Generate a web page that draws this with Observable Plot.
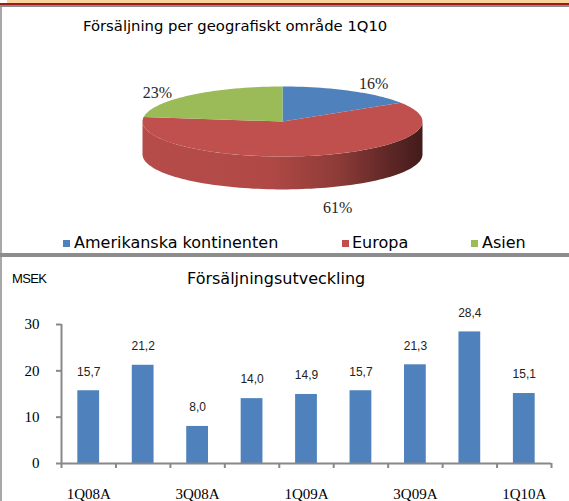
<!DOCTYPE html>
<html><head><meta charset="utf-8">
<script src="https://cdn.jsdelivr.net/npm/d3@7"></script>
<script src="https://cdn.jsdelivr.net/npm/@observablehq/plot@0.6"></script>
<style>
html,body{margin:0;padding:0;background:#fff;overflow:hidden;}
#wrap{position:relative;width:569px;height:501px;overflow:hidden;background:#fff;font-family:"DejaVu Sans",sans-serif;color:#000;}
.abs{position:absolute;white-space:nowrap;}
.sw{position:absolute;width:7px;height:7px;}
</style></head><body>
<svg id="defs" width="0" height="0" style="position:absolute"><defs></defs></svg>
<div id="wrap">
  <div class="abs" style="left:7px;top:0;width:562px;height:3px;background:#fcd29c"></div>
  <div class="abs" style="left:0;top:3px;width:569px;height:2px;background:#9e1b1b"></div>
  <div class="abs" style="left:0;top:5px;width:569px;height:2px;background:#8c8c8c"></div>
  <div class="abs" style="left:0;top:7px;width:1.5px;height:494px;background:#a8a8a8"></div>
  <div class="abs" style="left:0;top:253px;width:569px;height:4px;background:#8c8c8c"></div>
  <div id="t1" class="abs" style="left:83px;top:18px;font-size:14.8px;line-height:15px;">Försäljning per geografiskt område 1Q10</div>
  <div id="legend"></div>
  <div class="abs" style="left:12px;top:272px;font-family:'Liberation Sans';font-size:13px;line-height:13px;letter-spacing:-0.6px;">MSEK</div>
  <div class="abs" style="left:187px;top:271px;font-size:16px;line-height:16px;">Försäljningsutveckling</div>
</div>
<script>
// ---- data ----
const regions = ["Amerikanska kontinenten", "Europa", "Asien"];
const shares = [16, 61, 23];
const regionColors = ["#4f81bd", "#c0504d", "#9bbb59"];

const quarters = ["1Q08A","2Q08A","3Q08A","4Q08A","1Q09A","2Q09A","3Q09A","4Q09A","1Q10A"];
const sales = [15.7, 21.2, 8.0, 14.0, 14.9, 15.7, 21.3, 28.4, 15.1];
const yTicks = [0, 10, 20, 30];
const xLabelTicks = ["1Q08A","3Q08A","1Q09A","3Q09A","1Q10A"];

const wrap = document.getElementById("wrap");

// ---- side gradients ----
const defs = document.querySelector("#defs defs");
regionColors.forEach((c, i) => {
  const stops = [[0, 0.15], [0.45, 0.25], [0.7, 0.87], [0.88, 2.0], [1, 2.95]];
  const g = document.createElementNS("http://www.w3.org/2000/svg", "linearGradient");
  g.setAttribute("id", "side" + i);
  g.setAttribute("x1", "0"); g.setAttribute("x2", "1"); g.setAttribute("y1", "0"); g.setAttribute("y2", "0");
  stops.forEach(([o, k]) => {
    const s = document.createElementNS("http://www.w3.org/2000/svg", "stop");
    s.setAttribute("offset", o);
    s.setAttribute("stop-color", d3.color(c).darker(k).formatHex());
    g.appendChild(s);
  });
  defs.appendChild(g);
});

// ---- pie geometry ----
const arcs = d3.pie().sort(null).value(d => d)(shares);
const DEPTH = 0.94;
function arcPts(a0, a1, dy) {
  const n = Math.max(2, Math.ceil((a1 - a0) / (2 * Math.PI) * 180));
  return d3.range(n + 1).map(k => {
    const a = a0 + (a1 - a0) * k / n;
    return {x: Math.sin(a), y: Math.cos(a) + dy};
  });
}
const pieMarks = [];
arcs.forEach((p, i) => {
  const a0 = Math.max(p.startAngle, Math.PI / 2), a1 = Math.min(p.endAngle, 3 * Math.PI / 2);
  if (a1 > a0) {
    const pts = [...arcPts(a0, a1, 0), ...arcPts(a0, a1, -DEPTH).reverse()];
    pieMarks.push(Plot.line(pts, {x: "x", y: "y", fill: `url(#side${i})`, stroke: "none", curve: "linear"}));
  }
});
arcs.forEach((p, i) => {
  const pts = [{x: 0, y: 0}, ...arcPts(p.startAngle, p.endAngle, 0), {x: 0, y: 0}];
  pieMarks.push(Plot.line(pts, {x: "x", y: "y", fill: regionColors[i], stroke: "none", curve: "linear"}));
});
const pieLabels = arcs.map((p, i) => {
  const m = (p.startAngle + p.endAngle) / 2, s = Math.sin(m), c = Math.cos(m);
  const front = c < 0;
  return {x: s * 1.35 + (front ? 0.1 : 0), y: front ? c * 1.1 - DEPTH - 0.45 : c * 2.04 - 0.70, t: shares[i] + "%"};
});
pieMarks.push(Plot.text(pieLabels, {x: "x", y: "y", text: "t", fontFamily: "Liberation Serif", fontSize: 16, fill: "#262626"}));

const pie = Plot.plot({
  width: 569, height: 253, margin: 0,
  x: {domain: [-1, 1], range: [142, 422], axis: null},
  y: {domain: [-1, 1], range: [156, 86], axis: null},
  style: {background: "transparent", overflow: "visible"},
  marks: pieMarks
});
pie.style.position = "absolute"; pie.style.left = "0px"; pie.style.top = "0px";
wrap.insertBefore(pie, wrap.firstChild);

// ---- legend ----
const legendPos = [{sq: 63, tx: 74}, {sq: 342, tx: 352}, {sq: 471, tx: 482}];
const legend = document.getElementById("legend");
regions.forEach((r, i) => {
  const sq = document.createElement("div");
  sq.className = "sw";
  sq.style.left = legendPos[i].sq + "px"; sq.style.top = "240px"; sq.style.background = regionColors[i];
  legend.appendChild(sq);
  const t = document.createElement("div");
  t.className = "abs";
  t.style.left = legendPos[i].tx + "px"; t.style.top = "235px"; t.style.fontSize = "16px"; t.style.lineHeight = "16px";
  t.textContent = r;
  legend.appendChild(t);
});

// ---- bar chart ----
const barData = quarters.map((q, i) => ({q, i, v: sales[i]}));
const gray = "#888888";
const bar = Plot.plot({
  width: 569, height: 244,
  marginLeft: 61, marginRight: 18, marginTop: 67, marginBottom: 38,
  x: {domain: [-0.5, quarters.length - 0.5], axis: null},
  y: {domain: [0, 30], axis: null},
  style: {background: "transparent", overflow: "visible", fontFamily: "Liberation Serif", fontSize: "15px", color: "#000"},
  marks: [
    Plot.rectY(barData, {x1: d => d.i - 0.2, x2: d => d.i + 0.2, y: "v", fill: "#4f81bd"}),
    Plot.ruleY([0], {stroke: gray, strokeWidth: 2}),
    Plot.ruleX([-0.5], {y1: 0, y2: 30, stroke: gray, strokeWidth: 2}),
    Plot.axisY({ticks: yTicks, tickSize: 5, tickPadding: 17, stroke: gray, strokeWidth: 2, fill: "#000", label: null, fontSize: 15}),
    Plot.axisX({ticks: d3.range(-0.5, quarters.length, 1), tickSize: 5, tickFormat: () => "", stroke: gray, strokeWidth: 2, label: null}),
    Plot.axisX({ticks: xLabelTicks.map(q => quarters.indexOf(q)), tickFormat: i => quarters[i], tickSize: 0, tickPadding: 25, fill: "#000", label: null, fontSize: 15}),
    Plot.text(barData, {x: "i", y: "v", text: d => d.v.toFixed(1).replace(".", ","), dy: -19, fontFamily: "Liberation Sans", fontSize: 12, fill: "#222"})
  ]
});
bar.style.position = "absolute"; bar.style.left = "0px"; bar.style.top = "257px";
wrap.appendChild(bar);
</script>
</body></html>
